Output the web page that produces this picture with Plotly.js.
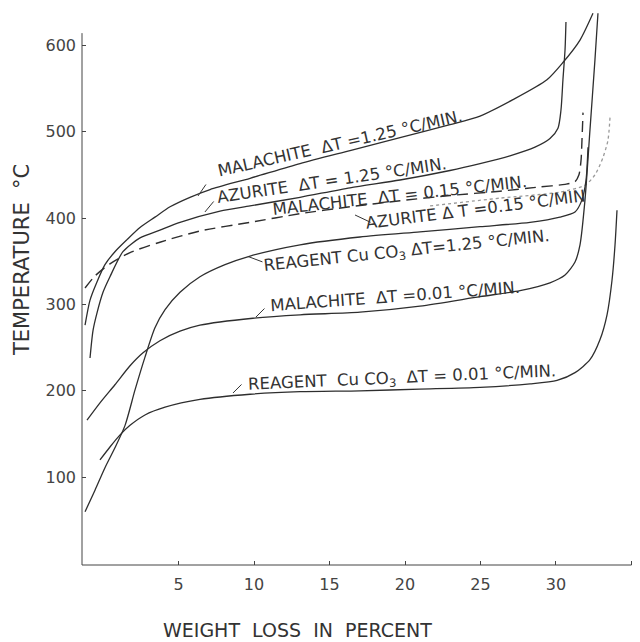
<!DOCTYPE html>
<html>
<head>
<meta charset="utf-8">
<script src="https://cdn.plot.ly/plotly-3.0.1.min.js"></script>
<style>html,body{margin:0;padding:0;background:#fff;}</style>
</head>
<body>
<div id="chart" style="width:640px;height:642px;"></div>
<script>
// Weight loss (%) vs temperature (°C) curves
const xMal125 = [-1.19,-0.86,-0.40,0.13,0.79,1.59,2.45,3.44,4.44,5.76,7.09,9.74,13.05,16.36,19.67,22.98,24.97,27.15,29.40,30.46,31.59,32.45];
const yMal125 = [276,305,326,346,361,375,389,401,413,424,433,446,463,478,493,508,518,537,560,580,606,637];

const xAz125 = [-0.86,-0.66,-0.40,0,0.46,1.32,2.45,3.77,5.10,7.75,9.74,13.05,16.36,19.67,22.98,24.97,26.95,28.61,29.60,30.13,30.33,30.46,30.60,30.66];
const yAz125 = [238,270,290,314,332,361,377,386,395,408,414,424,435,444,455,463,472,482,492,504,525,560,595,627];

const xMal015 = [-1.19,-0.53,0.46,1.79,3.77,6.42,9.74,13.05,16.36,19.67,22.98,26.29,28.94,30.60,31.26,31.52,31.66,31.72,31.79];
const yMal015 = [319,333,347,360,372,385,395,405,413,420,426,431,436,439,442,450,467,490,522];

const xAz015 = [21.66,26.29,30.26,31.92,32.58,33.11,33.44,33.58];
const yAz015 = [414,423,430,438,450,470,490,517];

const xReag125 = [-1.19,-0.53,0.13,0.79,1.46,2.12,2.78,3.44,4.11,5.10,6.42,8.08,9.74,13.05,17.02,20.99,24.97,28.28,30.26,31.26,31.72,31.99,32.12];
const yReag125 = [60,85,111,134,160,201,239,273,294,314,332,346,356,369,378,384,390,395,401,407,421,444,482];

const xMal001 = [-1.06,-0.20,0.79,1.79,2.65,3.77,5.10,6.42,9.93,13.05,17.02,20.99,24.97,27.62,29.60,30.60,31.26,31.59,31.92,32.25,32.58,32.78];
const yMal001 = [166,186,207,229,244,258,269,276,284,288,291,298,309,316,325,334,349,369,421,502,583,637];

const xReag001 = [-0.20,0.46,1.13,1.79,2.78,4.11,6.42,9.74,13.05,17.02,20.99,24.97,28.28,30.07,31.26,32.25,32.91,33.38,33.71,33.91,34.04];
const yReag001 = [120,135,149,160,172,181,190,196,199,200,202,204,208,212,221,236,259,288,328,369,409];

const xTicks = [5,10,15,20,25,30,35];
const yTicks = [100,200,300,400,500,600];

const labelMal125 = "MALACHITE\u00a0 ΔT =1.25 °C/MIN.";
const labelAz125 = "AZURITE\u00a0 ΔT = 1.25 °C/MIN.";
const labelMal015 = "MALACHITE\u00a0 ΔT = 0.15 °C/MIN.";
const labelAz015 = "AZURITE Δ T =0.15 °C/MIN";
const labelReag125 = "REAGENT Cu CO<sub>3</sub> ΔT=1.25 °C/MIN.";
const labelMal001 = "MALACHITE\u00a0 ΔT =0.01 °C/MIN.";
const labelReag001 = "REAGENT\u00a0 Cu CO<sub>3</sub>\u00a0 ΔT = 0.01 °C/MIN.";

const ink = '#2e2e2e';
function solid(x, y) {
  return {x: x, y: y, mode: 'lines', hoverinfo: 'skip',
    line: {color: ink, width: 1.3, shape: 'spline', smoothing: 0.7}};
}
const traces = [
  solid(xMal125, yMal125),
  solid(xAz125, yAz125),
  {x: xMal015, y: yMal015, mode: 'lines', hoverinfo: 'skip',
    line: {color: ink, width: 1.4, dash: '11px,6px', shape: 'spline', smoothing: 0.7}},
  {x: xAz015, y: yAz015, mode: 'lines', hoverinfo: 'skip',
    line: {color: '#9a9a9a', width: 1.3, dash: 'dot', shape: 'spline', smoothing: 0.7}},
  solid(xReag125, yReag125),
  solid(xMal001, yMal001),
  solid(xReag001, yReag001)
];

const lblFont = {family: 'DejaVu Sans', size: 16.5, color: '#333'};
function lbl(text, x, y, ang) {
  return {text: text, x: x, y: y, xref: 'x', yref: 'y', showarrow: false,
    textangle: ang, font: lblFont, xanchor: 'center', yanchor: 'middle'};
}
function leader(x, y, ax, ay) {
  return {text: '', x: x, y: y, xref: 'x', yref: 'y', showarrow: true,
    arrowhead: 0, arrowwidth: 1, arrowcolor: '#333', ax: ax, ay: ay, standoff: 0};
}

const layout = {
  width: 640, height: 642,
  margin: {l: 82, r: 6, t: 6, b: 77},
  paper_bgcolor: '#ffffff', plot_bgcolor: '#ffffff',
  showlegend: false,
  font: {family: 'DejaVu Sans', color: '#333'},
  xaxis: {range: [-1.391, 35.166], tickmode: 'array', tickvals: xTicks,
    ticks: 'inside', ticklen: 4, tickcolor: '#444', showline: false,
    showgrid: false, zeroline: false, tickfont: {family: 'DejaVu Sans', size: 16, color: '#444'},
    ticklabelstandoff: 8},
  yaxis: {range: [-1.62, 645.4], tickmode: 'array', tickvals: yTicks,
    ticks: 'inside', ticklen: 4, tickcolor: '#444', showline: false,
    showgrid: false, zeroline: false, tickfont: {family: 'DejaVu Sans', size: 16, color: '#444'},
    ticklabelstandoff: 5},
  shapes: [
    {type: 'line', xref: 'paper', yref: 'y', x0: 0, x1: 0, y0: -1.62, y1: 614,
      line: {color: '#444', width: 1}},
    {type: 'line', xref: 'x', yref: 'paper', x0: -1.391, x1: 35, y0: 0, y1: 0,
      line: {color: '#444', width: 1}}
  ],
  annotations: [
    lbl(labelMal125, 15.70, 485.7, -12.8),
    lbl(labelAz125, 15.17, 444.0, -8.4),
    lbl(labelMal015, 19.67, 425.5, -6.3),
    lbl(labelAz015, 24.70, 409.3, -7.2),
    lbl(labelReag125, 20.13, 360.7, -6),
    lbl(labelMal001, 19.34, 308.6, -4.2),
    lbl(labelReag001, 19.80, 214.8, -2.5),
    leader(6.29, 425.5, 9, -13),
    leader(6.75, 407, 10, -12),
    leader(16.69, 403.5, 17, 8),
    leader(9.6, 355.5, 16, 6),
    leader(10.13, 285.4, 10, -10),
    leader(8.61, 197.5, 10, -10),
    {text: 'WEIGHT\u00a0 LOSS\u00a0 IN\u00a0 PERCENT', xref: 'paper', yref: 'paper',
      x: 0.3895, y: -0.1163, xanchor: 'center', yanchor: 'middle', showarrow: false,
      font: {family: 'DejaVu Sans', size: 19, color: '#333'}},
    {text: 'TEMPERATURE\u00a0 °C', xref: 'paper', yref: 'paper', textangle: -90,
      x: -0.1087, y: 0.5456, xanchor: 'center', yanchor: 'middle', showarrow: false,
      font: {family: 'DejaVu Sans', size: 21, color: '#333'}}
  ]
};

Plotly.newPlot('chart', traces, layout, {staticPlot: true, displayModeBar: false});
</script>
</body>
</html>
